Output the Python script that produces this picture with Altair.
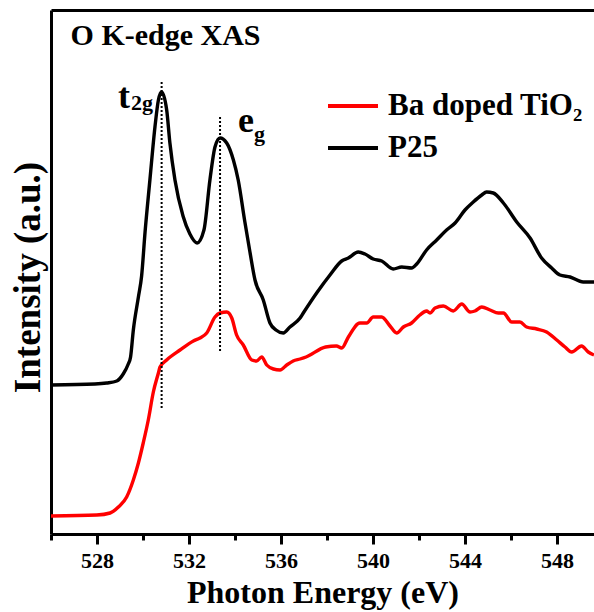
import altair as alt
import pandas as pd

# ---- data ----
ENERGY_P25 = [526.0, 527.91, 528.42, 528.86, 529.14, 529.36, 529.46, 529.58, 529.80, 529.94,
              530.09, 530.30, 530.52, 530.67, 530.81, 531.03, 531.17, 531.39, 531.74, 532.04,
              532.35, 532.65, 532.91, 533.13, 533.35, 533.64, 533.93, 534.14, 534.43, 534.65,
              534.87, 535.23, 535.52, 535.78, 536.10, 536.39, 536.83, 536.97, 537.55, 538.13,
              538.64, 538.93, 539.36, 539.65, 540.01, 540.38, 540.88, 541.25, 541.68, 541.90,
              542.33, 542.77, 543.20, 543.57, 544.00, 544.36, 544.73, 544.94, 545.23, 545.67,
              546.25, 546.83, 547.33, 547.77, 548.13, 548.57, 549.14, 549.61]
INT_P25 = [1.49, 1.50, 1.51, 1.53, 1.60, 1.70, 1.77, 2.04, 2.37, 2.58,
           3.02, 3.54, 4.07, 4.34, 4.42, 4.24, 3.91, 3.54, 3.18, 3.00,
           2.91, 3.04, 3.54, 3.87, 3.96, 3.91, 3.74, 3.54, 3.12, 2.82,
           2.54, 2.34, 2.11, 2.04, 2.01, 2.07, 2.16, 2.21, 2.41, 2.59,
           2.73, 2.76, 2.82, 2.80, 2.75, 2.73, 2.65, 2.67, 2.66, 2.70,
           2.84, 2.94, 3.04, 3.11, 3.24, 3.32, 3.39, 3.42, 3.41, 3.31,
           3.12, 2.96, 2.76, 2.66, 2.59, 2.57, 2.52, 2.52]

ENERGY_BA = [526.0, 527.99, 528.57, 528.93, 529.29, 529.58, 529.80, 530.01, 530.23, 530.45,
             530.67, 530.74, 531.03, 531.61, 532.19, 532.48, 532.77, 533.13, 533.35, 533.64,
             533.86, 534.07, 534.36, 534.73, 534.94, 535.16, 535.38, 535.67, 535.96, 536.25,
             536.53, 536.83, 537.09, 537.94, 538.41, 538.64, 538.93, 539.43, 539.73, 540.01,
             540.38, 540.74, 541.03, 541.32, 541.68, 542.04, 542.33, 542.48, 542.70, 543.06,
             543.49, 543.86, 544.22, 544.43, 544.73, 545.09, 545.45, 545.67, 546.03, 546.39,
             546.68, 547.12, 547.55, 547.99, 548.35, 548.64, 549.07, 549.36, 549.61]
INT_BA = [0.18, 0.19, 0.21, 0.27, 0.37, 0.54, 0.71, 0.91, 1.14, 1.42,
          1.61, 1.67, 1.74, 1.84, 1.93, 1.96, 2.01, 2.17, 2.21, 2.22,
          2.16, 1.99, 1.89, 1.74, 1.73, 1.77, 1.69, 1.65, 1.64, 1.69,
          1.73, 1.75, 1.77, 1.87, 1.88, 1.86, 1.97, 2.11, 2.11, 2.17,
          2.17, 2.08, 2.01, 2.07, 2.11, 2.19, 2.23, 2.21, 2.26, 2.28,
          2.23, 2.30, 2.22, 2.23, 2.27, 2.24, 2.21, 2.21, 2.12, 2.12,
          2.07, 2.05, 2.02, 1.94, 1.87, 1.82, 1.88, 1.82, 1.79]

SERIES = ["Ba doped TiO\u2082", "P25"]
COLORS = ["#ff0000", "#000000"]

MAJOR_TICKS = [528, 532, 536, 540, 544, 548]
MINOR_TICKS = [526, 530, 534, 538, 542, 546]

PEAK_ENERGY = [530.81, 533.35]
PEAK_LOW = [1.26, 1.83]
PEAK_HIGH = [4.54, 4.19]

BIG_TEXT = ["t", "e"]
BIG_E = [528.91, 534.13]
BIG_I = [4.26, 4.02]
SUB_TEXT = ["2g", "g"]
SUB_E = [529.48, 534.83]
SUB_I = [4.24, 3.93]

PANEL_TEXT = ["O K-edge XAS"]
PANEL_E = [526.85]
PANEL_I = [4.89]

X_DOMAIN = [526, 549.61]
Y_DOMAIN = [0, 5.24]
FONT = "Liberation Serif"

assert len(ENERGY_P25) == len(INT_P25)
assert len(ENERGY_BA) == len(INT_BA)

df = pd.concat([
    pd.DataFrame({"energy": ENERGY_BA, "intensity": INT_BA, "series": SERIES[0]}),
    pd.DataFrame({"energy": ENERGY_P25, "intensity": INT_P25, "series": SERIES[1]}),
])

xscale = alt.Scale(domain=X_DOMAIN, nice=False, zero=False)
yscale = alt.Scale(domain=Y_DOMAIN, nice=False, zero=False)

lines = alt.Chart(df).mark_line(strokeWidth=3.4, clip=True, interpolate="monotone").encode(
    x=alt.X("energy:Q", scale=xscale,
            axis=alt.Axis(orient="bottom", values=MAJOR_TICKS, format="d", tickSize=10,
                          tickWidth=3, domainWidth=3, domainColor="black", tickColor="black",
                          labelFont=FONT, labelFontWeight="bold", labelFontSize=22,
                          labelColor="black", labelPadding=6, labelFlush=False,
                          title="Photon Energy (eV)", titleFont=FONT, titleFontWeight="bold",
                          titleFontSize=32, titleColor="black", titlePadding=6, grid=False)),
    y=alt.Y("intensity:Q", scale=yscale,
            axis=alt.Axis(orient="left", ticks=False, labels=False, domainWidth=3,
                          domainColor="black", title="Intensity (a.u.)", titleFont=FONT,
                          titleFontWeight="bold", titleFontSize=37, titleColor="black",
                          titlePadding=4, titleY=267, grid=False)),
    color=alt.Color("series:N", scale=alt.Scale(domain=SERIES, range=COLORS),
                    legend=alt.Legend(orient="none", legendX=275, legendY=69, title=None,
                                      symbolType="stroke", symbolSize=2500,
                                      symbolStrokeWidth=3.8, labelFont=FONT,
                                      labelFontWeight="bold", labelFontSize=31,
                                      labelColor="black", labelOffset=8, rowPadding=0,
                                      labelLimit=0)),
)

rules_df = pd.DataFrame({"e": PEAK_ENERGY, "lo": PEAK_LOW, "hi": PEAK_HIGH})
rules = alt.Chart(rules_df).mark_rule(strokeDash=[2, 2], strokeWidth=2, color="black").encode(
    x=alt.X("e:Q", scale=xscale,
            axis=alt.Axis(orient="bottom", values=MINOR_TICKS, tickSize=6, tickWidth=3,
                          tickColor="black", labels=False, domain=False, title=None,
                          grid=False)),
    y=alt.Y("lo:Q", scale=yscale, axis=None),
    y2="hi:Q",
)

panel_df = pd.DataFrame({"text": PANEL_TEXT, "e": PANEL_E, "i": PANEL_I})
panel = alt.Chart(panel_df).mark_text(align="left", baseline="alphabetic", font=FONT,
                                      fontWeight="bold", fontSize=30, color="black").encode(
    x=alt.X("e:Q", scale=xscale,
            axis=alt.Axis(orient="top", ticks=False, labels=False, domainWidth=3,
                          domainColor="black", title=None, grid=False)),
    y=alt.Y("i:Q", scale=yscale, axis=None),
    text="text:N",
)

big_df = pd.DataFrame({"text": BIG_TEXT, "e": BIG_E, "i": BIG_I})
big = alt.Chart(big_df).mark_text(align="left", baseline="alphabetic", font=FONT,
                                  fontWeight="bold", fontSize=36, color="black").encode(
    x=alt.X("e:Q", scale=xscale, axis=None),
    y=alt.Y("i:Q", scale=yscale, axis=None),
    text="text:N",
)

sub_df = pd.DataFrame({"text": SUB_TEXT, "e": SUB_E, "i": SUB_I})
sub = alt.Chart(sub_df).mark_text(align="left", baseline="alphabetic", font=FONT,
                                  fontWeight="bold", fontSize=22, color="black").encode(
    x=alt.X("e:Q", scale=xscale, axis=None),
    y=alt.Y("i:Q", scale=yscale, axis=None),
    text="text:N",
)

chart = alt.layer(lines, rules, panel, big, sub).resolve_axis(
    x="independent", y="independent"
).properties(
    width=543, height=524,
    padding={"left": 51, "top": 10, "right": 0, "bottom": 78},
    autosize=alt.AutoSizeParams(type="none"),
    background="white",
).configure_view(stroke=None)

chart.save("out.html", embed_options={"renderer": "svg", "actions": False})
